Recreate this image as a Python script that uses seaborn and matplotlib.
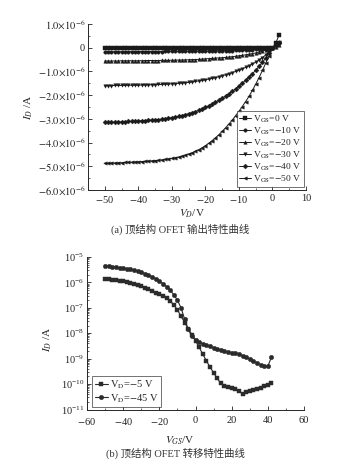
import numpy as np
import pandas as pd
import matplotlib
matplotlib.use("Agg")
import matplotlib.pyplot as plt
import seaborn as sns
from matplotlib.ticker import MultipleLocator, FixedLocator, FixedFormatter, LogLocator, NullFormatter

# ---------------- data: output characteristics (I_D in 1e-6 A) ----------------
vd = list(range(-50, 3))  # V_D / V

id_vg0 = [-0.03, -0.03, -0.03, -0.03, -0.03, -0.03, -0.03, -0.03, -0.03, -0.03,
          -0.03, -0.03, -0.03, -0.03, -0.03, -0.03, -0.03, -0.03, -0.03, -0.03,
          -0.03, -0.03, -0.03, -0.03, -0.03, -0.03, -0.03, -0.03, -0.03, -0.03,
          -0.03, -0.03, -0.03, -0.03, -0.03, -0.03, -0.03, -0.03, -0.03, -0.03,
          -0.03, -0.03, -0.03, -0.03, -0.03, -0.03, -0.03, -0.03, -0.02, -0.02,
          0.00, 0.20, 0.55]
id_vg10 = [-0.17, -0.17, -0.17, -0.17, -0.17, -0.17, -0.17, -0.17, -0.16, -0.16,
           -0.16, -0.16, -0.16, -0.16, -0.16, -0.16, -0.16, -0.16, -0.15, -0.15,
           -0.15, -0.15, -0.15, -0.15, -0.15, -0.15, -0.14, -0.14, -0.14, -0.14,
           -0.14, -0.14, -0.13, -0.13, -0.13, -0.13, -0.12, -0.12, -0.12, -0.11,
           -0.11, -0.10, -0.10, -0.09, -0.08, -0.07, -0.06, -0.05, -0.04, -0.02,
           0.00, 0.10, 0.25]
id_vg20 = [-0.56, -0.56, -0.56, -0.56, -0.56, -0.55, -0.55, -0.55, -0.55, -0.55,
           -0.55, -0.55, -0.54, -0.54, -0.54, -0.54, -0.54, -0.53, -0.53, -0.53,
           -0.53, -0.52, -0.52, -0.52, -0.51, -0.51, -0.50, -0.50, -0.49, -0.48,
           -0.47, -0.46, -0.45, -0.44, -0.43, -0.42, -0.41, -0.39, -0.38, -0.36,
           -0.34, -0.32, -0.30, -0.27, -0.25, -0.22, -0.18, -0.15, -0.10, -0.06,
           -0.01, 0.05, 0.10]
id_vg30 = [-1.60, -1.60, -1.60, -1.59, -1.59, -1.59, -1.59, -1.58, -1.58, -1.58,
           -1.58, -1.57, -1.57, -1.57, -1.56, -1.56, -1.55, -1.55, -1.54, -1.53,
           -1.52, -1.51, -1.50, -1.49, -1.47, -1.46, -1.44, -1.42, -1.40, -1.38,
           -1.35, -1.32, -1.29, -1.26, -1.22, -1.18, -1.14, -1.10, -1.05, -1.00,
           -0.95, -0.89, -0.83, -0.76, -0.69, -0.61, -0.52, -0.42, -0.30, -0.17,
           -0.03, 0.08, 0.15]
id_vg40 = [-3.15, -3.15, -3.14, -3.14, -3.13, -3.13, -3.12, -3.11, -3.11, -3.10,
           -3.09, -3.08, -3.07, -3.06, -3.05, -3.04, -3.03, -3.01, -2.99, -2.97,
           -2.95, -2.92, -2.89, -2.86, -2.82, -2.78, -2.74, -2.69, -2.64, -2.58,
           -2.52, -2.45, -2.38, -2.30, -2.22, -2.13, -2.04, -1.94, -1.84, -1.73,
           -1.62, -1.50, -1.37, -1.24, -1.10, -0.95, -0.79, -0.62, -0.43, -0.23,
           -0.03, 0.10, 0.20]
id_vg50 = [-4.87, -4.87, -4.86, -4.86, -4.85, -4.85, -4.84, -4.83, -4.83, -4.82,
           -4.81, -4.80, -4.79, -4.78, -4.77, -4.76, -4.75, -4.73, -4.71, -4.69,
           -4.67, -4.64, -4.61, -4.57, -4.53, -4.48, -4.43, -4.37, -4.30, -4.22,
           -4.13, -4.03, -3.92, -3.80, -3.67, -3.53, -3.38, -3.22, -3.05, -2.87,
           -2.68, -2.48, -2.27, -2.05, -1.80, -1.54, -1.26, -0.96, -0.65, -0.33,
           -0.02, 0.12, 0.25]

out_labels = [r"V$_{\mathrm{GS}}$=0 V", r"V$_{\mathrm{GS}}$=$-$10 V", r"V$_{\mathrm{GS}}$=$-$20 V",
              r"V$_{\mathrm{GS}}$=$-$30 V", r"V$_{\mathrm{GS}}$=$-$40 V", r"V$_{\mathrm{GS}}$=$-$50 V"]
out_series = [id_vg0, id_vg10, id_vg20, id_vg30, id_vg40, id_vg50]

top_yticks = [1.0, 0.0, -1.0, -2.0, -3.0, -4.0, -5.0, -6.0]
top_yticklabels = [r"$1.0{\times}10^{-6}$", "0", r"$-1.0{\times}10^{-6}$", r"$-2.0{\times}10^{-6}$",
                   r"$-3.0{\times}10^{-6}$", r"$-4.0{\times}10^{-6}$", r"$-5.0{\times}10^{-6}$",
                   r"$-6.0{\times}10^{-6}$"]

# ---------------- data: transfer characteristics (log10 I_D) ----------------
vgs = list(range(-50, 43, 2))  # V_GS / V
log_id_vd45 = [-5.35, -5.36, -5.38, -5.40, -5.42, -5.44, -5.46, -5.49, -5.52, -5.56,
               -5.60, -5.65, -5.71, -5.78, -5.86, -5.95, -6.05, -6.17, -6.31, -6.48,
               -6.70, -7.00, -7.45, -7.85, -8.12, -8.25, -8.35, -8.42, -8.47, -8.52,
               -8.57, -8.62, -8.66, -8.70, -8.73, -8.76, -8.79, -8.83, -8.88, -8.94,
               -9.01, -9.08, -9.16, -9.24, -9.30, -9.29, -8.95]
log_id_vd5 = [-5.85, -5.87, -5.89, -5.91, -5.93, -5.95, -5.98, -6.02, -6.06, -6.11,
              -6.16, -6.21, -6.27, -6.33, -6.40, -6.47, -6.55, -6.63, -6.73, -6.88,
              -7.08, -7.33, -7.58, -7.82, -8.05, -8.30, -8.55, -8.82, -9.08, -9.33,
              -9.55, -9.78, -9.97, -10.08, -10.13, -10.16, -10.20, -10.28, -10.38, -10.30,
              -10.27, -10.24, -10.20, -10.15, -10.08, -10.02, -9.95]
tr_labels = [r"V$_{\mathrm{D}}$=$-$5 V", r"V$_{\mathrm{D}}$=$-$45 V"]

# ---------------- styling ----------------
sns.set_theme(style="ticks")
plt.rcParams["font.family"] = ["Liberation Serif", "Noto Sans CJK SC", "DejaVu Sans"]
plt.rcParams["mathtext.fontset"] = "stix"
plt.rcParams["axes.linewidth"] = 0.7

fig = plt.figure(figsize=(3.61, 4.69), dpi=100)
W, H = 361.0, 469.0
ax1 = fig.add_axes([88 / W, 1 - 190 / H, 218 / W, 166 / H])
ax2 = fig.add_axes([87 / W, 1 - 409.5 / H, 217 / W, 152.5 / H])

# ---- top: output curves ----
markers = ["s", "o", "^", "v", "D", "<"]
rows = []
for lab, ser in zip(out_labels, out_series):
    for x, y in zip(vd, ser):
        rows.append({"VD": x, "ID": y * 1e-6, "curve": lab})
df_out = pd.DataFrame(rows)
for lab, m in zip(out_labels, markers):
    sub = df_out[df_out["curve"] == lab]
    sns.lineplot(data=sub, x="VD", y="ID", ax=ax1, color="#1a1a1a", marker=m,
                 markersize=2.5, markeredgewidth=0.3, markeredgecolor="#1a1a1a",
                 linewidth=0.7, label=lab)

ax1.set_xlim(-55, 10)
ax1.set_ylim(-6e-6, 1e-6)
ax1.xaxis.set_major_locator(FixedLocator([-50, -40, -30, -20, -10, 0, 10]))
ax1.xaxis.set_minor_locator(MultipleLocator(5))
ax1.yaxis.set_major_locator(FixedLocator([v * 1e-6 for v in top_yticks]))
ax1.yaxis.set_major_formatter(FixedFormatter(top_yticklabels))
ax1.yaxis.set_minor_locator(MultipleLocator(0.5e-6))
ax1.set_xticklabels(["$-$50", "$-$40", "$-$30", "$-$20", "$-$10", "0", "10"])
for sp in ["top", "right"]:
    ax1.spines[sp].set_visible(False)
ax1.tick_params(which="major", direction="in", length=3, width=0.6, labelsize=7.5, colors="#222222")
ax1.tick_params(axis="y", which="major", pad=2)
ax1.tick_params(axis="x", which="major", pad=3)
ax1.tick_params(which="minor", direction="in", length=1.6, width=0.5)
ax1.set_xlabel(r"$V_D$/V", fontsize=8)
ax1.set_ylabel(r"$I_D$ /A", fontsize=8)
ax1.xaxis.set_label_coords(0.477, -0.105)
ax1.yaxis.set_label_coords(-0.245, 0.5)
leg1 = ax1.legend(loc="lower right", bbox_to_anchor=(0.99, 0.018), frameon=True, fancybox=False,
                  edgecolor="#333333", fontsize=6.8, handlelength=1.3, labelspacing=0.08,
                  borderpad=0.25, handletextpad=0.2, borderaxespad=0.0)
leg1.get_frame().set_linewidth(0.6)

# ---- bottom: transfer curves ----
rows = []
for lab, ser in zip(tr_labels, [log_id_vd5, log_id_vd45]):
    for x, y in zip(vgs, ser):
        rows.append({"VGS": x, "ID": 10.0 ** y, "curve": lab})
df_tr = pd.DataFrame(rows)
for lab, m in zip(tr_labels, ["s", "o"]):
    sub = df_tr[df_tr["curve"] == lab]
    sns.lineplot(data=sub, x="VGS", y="ID", ax=ax2, color="#2b2b2b", marker=m,
                 markersize=3.2, markeredgewidth=0.3, markeredgecolor="#2b2b2b",
                 linewidth=0.8, label=lab)
ax2.set_yscale("log")
ax2.set_xlim(-60, 60)
ax2.set_ylim(1e-11, 1e-5)
ax2.xaxis.set_major_locator(FixedLocator([-60, -40, -20, 0, 20, 40, 60]))
ax2.set_xticklabels(["$-$60", "$-$40", "$-$20", "0", "20", "40", "60"])
ax2.xaxis.set_minor_locator(MultipleLocator(10))
ax2.yaxis.set_major_locator(LogLocator(base=10, numticks=10))
ax2.yaxis.set_minor_locator(LogLocator(base=10, subs=np.arange(2, 10), numticks=20))
ax2.yaxis.set_minor_formatter(NullFormatter())
for sp in ["top", "right"]:
    ax2.spines[sp].set_visible(False)
ax2.tick_params(which="major", direction="in", length=3, width=0.6, labelsize=7.5, colors="#222222")
ax2.tick_params(axis="y", which="major", pad=2)
ax2.tick_params(axis="x", which="major", pad=5)
ax2.tick_params(which="minor", direction="in", length=1.6, width=0.5)
ax2.set_xlabel(r"$V_{GS}$/V", fontsize=8)
ax2.set_ylabel(r"$I_D$ /A", fontsize=8)
ax2.xaxis.set_label_coords(0.43, -0.165)
ax2.yaxis.set_label_coords(-0.15, 0.46)
leg2 = ax2.legend(loc="lower left", bbox_to_anchor=(0.025, 0.015), frameon=True, fancybox=False,
                  edgecolor="#333333", fontsize=7.5, handlelength=1.2, labelspacing=0.1,
                  borderpad=0.25, handletextpad=0.2, borderaxespad=0.0)
leg2.get_frame().set_linewidth(0.6)

# captions
fig.text(0.5, 1 - 229 / H, "(a) 顶结构 OFET 输出特性曲线", ha="center", va="center", fontsize=7.5,
         color="#333333")
fig.text(0.485, 1 - 453 / H, "(b) 顶结构 OFET 转移特性曲线", ha="center", va="center", fontsize=7.5,
         color="#333333")

fig.savefig("out.png", dpi=100, facecolor="white")
